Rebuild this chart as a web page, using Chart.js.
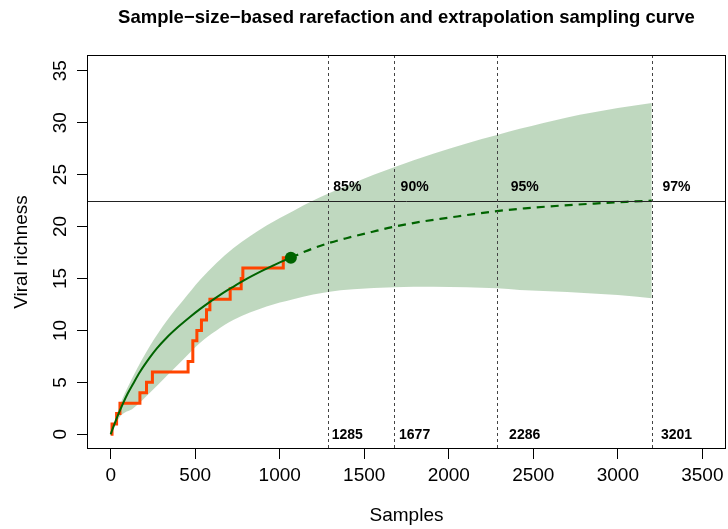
<!DOCTYPE html>
<html>
<head>
<meta charset="utf-8">
<script src="https://cdn.jsdelivr.net/npm/chart.js@4.4.1/dist/chart.umd.min.js"></script>
<style>
html,body{margin:0;padding:0;background:#ffffff;overflow:hidden;}
#wrap{width:728px;height:529px;overflow:hidden;}
</style>
</head>
<body>
<div id="wrap"><canvas id="c" width="732" height="529"></canvas></div>
<script>
// ---------- data ----------
const xTicks = [0, 500, 1000, 1500, 2000, 2500, 3000, 3500];
const yTicks = [0, 5, 10, 15, 20, 25, 30, 35];

// observed species accumulation (step curve)
const stepN = [0, 8, 35, 55, 173, 212, 247, 458, 486, 510, 537, 567, 587, 707, 772, 782, 1021, 1066];
const stepS = [0, 1, 2, 3, 4, 5, 6, 7, 9, 10, 11, 12, 13, 14, 15, 16, 17, 17];

// interpolated (rarefaction) curve
const rarefN = [0, 25, 55, 100, 134, 173, 232, 272, 331, 400, 469, 528, 587, 650, 725, 804, 880, 962, 1021, 1066];
const rarefS = [0, 1.1, 2.3, 3.9, 4.9, 6.0, 7.4, 8.25, 9.3, 10.35, 11.3, 12.05, 12.75, 13.45, 14.2, 14.95, 15.6, 16.25, 16.7, 17.0];

// extrapolated curve
const extrapN = [1066, 1150, 1285, 1400, 1550, 1677, 1850, 2000, 2150, 2286, 2450, 2650, 2850, 3050, 3201];
const extrapS = [17.0, 17.6, 18.38, 18.9, 19.5, 19.98, 20.5, 20.85, 21.2, 21.49, 21.75, 22.0, 22.2, 22.38, 22.49];

// confidence band
const bandN = [0, 55, 134, 232, 331, 429, 528, 626, 725, 922, 1080, 1198, 1285, 1435, 1677, 1908, 2105, 2286, 2420, 2700, 3000, 3201];
const bandUpper = [0, 2.8, 5.6, 8.5, 10.9, 12.9, 14.85, 16.5, 17.9, 20.1, 21.5, 22.5, 23.15, 24.2, 25.7, 27.0, 28.0, 28.8, 29.4, 30.5, 31.4, 31.9];
const bandLower = [0, 1.7, 2.5, 4.0, 5.6, 7.2, 8.8, 10.0, 11.0, 12.3, 13.0, 13.45, 13.7, 13.95, 14.15, 14.2, 14.15, 14.05, 13.9, 13.7, 13.4, 13.1];

// observed sample
const obsN = [1066];
const obsS = [17];

// reference lines
const asymptote = [22.5];
const refN = [1285, 1677, 2286, 3201];
const refPct = ['85%', '90%', '95%', '97%'];

// ---------- styles / positions ----------
const FONT = '"Liberation Sans", Arial, Helvetica, sans-serif';
const LABEL_X = [1400, 1798, 2449, 3347]; // centres of annotation labels (data units)
const ORANGE = '#FF4500';
const DKGREEN = '#006400';
const BAND = 'rgba(0,100,0,0.25)';

const pts = (xs, ys) => xs.map((v, i) => ({x: v, y: ys[i]}));

const overlay = {
  id: 'overlay',
  afterDatasetsDraw(chart) {
    const {ctx, chartArea: a, scales: {x, y}} = chart;
    ctx.save();
    // horizontal asymptote line
    const yh = Math.round(y.getPixelForValue(asymptote[0])) + 0.5;
    ctx.strokeStyle = '#222';
    ctx.lineWidth = 1;
    ctx.beginPath(); ctx.moveTo(a.left, yh); ctx.lineTo(a.right, yh); ctx.stroke();
    // vertical dashed lines
    ctx.strokeStyle = '#444';
    ctx.setLineDash([3, 3]);
    refN.forEach(v => {
      const px = Math.round(x.getPixelForValue(v)) + 0.5;
      ctx.beginPath(); ctx.moveTo(px, a.top); ctx.lineTo(px, a.bottom); ctx.stroke();
    });
    ctx.setLineDash([]);
    // labels
    ctx.font = 'bold 14px ' + FONT;
    ctx.fillStyle = '#000';
    ctx.textAlign = 'center';
    ctx.textBaseline = 'middle';
    refN.forEach((v, i) => {
      const cx = x.getPixelForValue(LABEL_X[i]);
      ctx.fillText(refPct[i], cx, yh - 14.5);
      ctx.fillText(String(v), cx, a.bottom - 14);
    });
    // frame
    ctx.strokeStyle = '#000';
    ctx.strokeRect(a.left + 0.5, a.top + 0.5, a.right - a.left - 1, a.bottom - a.top - 1);
    ctx.restore();
  }
};

new Chart(document.getElementById('c').getContext('2d'), {
  type: 'line',
  data: {
    datasets: [
      {label: 'upper', data: pts(bandN, bandUpper), borderColor: 'rgba(0,0,0,0)', borderWidth: 0,
       pointRadius: 0, backgroundColor: BAND, fill: '+1', order: 10, cubicInterpolationMode: 'monotone'},
      {label: 'lower', data: pts(bandN, bandLower), borderColor: 'rgba(0,0,0,0)', borderWidth: 0,
       pointRadius: 0, fill: false, order: 11, cubicInterpolationMode: 'monotone'},
      {label: 'observed', data: pts(stepN, stepS), borderColor: ORANGE, borderWidth: 3,
       pointRadius: 0, stepped: 'before', fill: false, order: 5},
      {label: 'rarefaction', data: pts(rarefN, rarefS), borderColor: DKGREEN, borderWidth: 2,
       pointRadius: 0, cubicInterpolationMode: 'monotone', fill: false, order: 4},
      {label: 'extrapolation', data: pts(extrapN, extrapS), borderColor: DKGREEN, borderWidth: 2.2,
       borderDash: [8, 6], pointRadius: 0, cubicInterpolationMode: 'monotone', fill: false, order: 4},
      {label: 'sample', data: pts(obsN, obsS), showLine: false, pointRadius: 6,
       pointBackgroundColor: DKGREEN, pointBorderColor: DKGREEN, pointBorderWidth: 0, order: 1}
    ]
  },
  options: {
    responsive: false,
    animation: false,
    events: [],
    layout: {padding: {left: 0, right: 2, top: 0, bottom: 0}},
    plugins: {
      legend: {display: false},
      tooltip: {enabled: false},
      title: {
        display: true,
        fullSize: false,
        text: 'Sample\u2212size\u2212based rarefaction and extrapolation sampling curve',
        color: '#000',
        font: {family: FONT, size: 18.5, weight: 'bold'},
        padding: {top: 7, bottom: 25.8}
      }
    },
    scales: {
      x: {
        type: 'linear', min: -140, max: 3640,
        afterBuildTicks: s => { s.ticks = xTicks.map(v => ({value: v})); },
        afterFit: s => { s.height = 80; s.paddingLeft = 0; s.paddingRight = 0; },
        grid: {drawOnChartArea: false, drawTicks: true, tickLength: 10, color: '#000', tickColor: '#000'},
        border: {display: false},
        ticks: {color: '#000', font: {family: FONT, size: 19}, padding: 5, maxRotation: 0, minRotation: 0,
                autoSkip: false, callback: v => String(v)},
        title: {display: true, text: 'Samples', color: '#000', font: {family: FONT, size: 19},
                padding: {top: 0, bottom: 2}}
      },
      y: {
        type: 'linear', min: -1.415, max: 36.51,
        afterBuildTicks: s => { s.ticks = yTicks.map(v => ({value: v})); },
        afterFit: s => { s.width = 87; s.paddingTop = 0; s.paddingBottom = 0; },
        grid: {drawOnChartArea: false, drawTicks: true, tickLength: 10, color: '#000', tickColor: '#000'},
        border: {display: false},
        ticks: {color: '#000', font: {family: FONT, size: 19}, padding: 6, minRotation: 90, maxRotation: 90,
                crossAlign: 'center', autoSkip: false, callback: v => String(v)},
        title: {display: true, text: 'Viral richness', color: '#000', font: {family: FONT, size: 19},
                padding: {top: 10, bottom: 0}}
      }
    }
  },
  plugins: [overlay]
});
</script>
</body>
</html>
